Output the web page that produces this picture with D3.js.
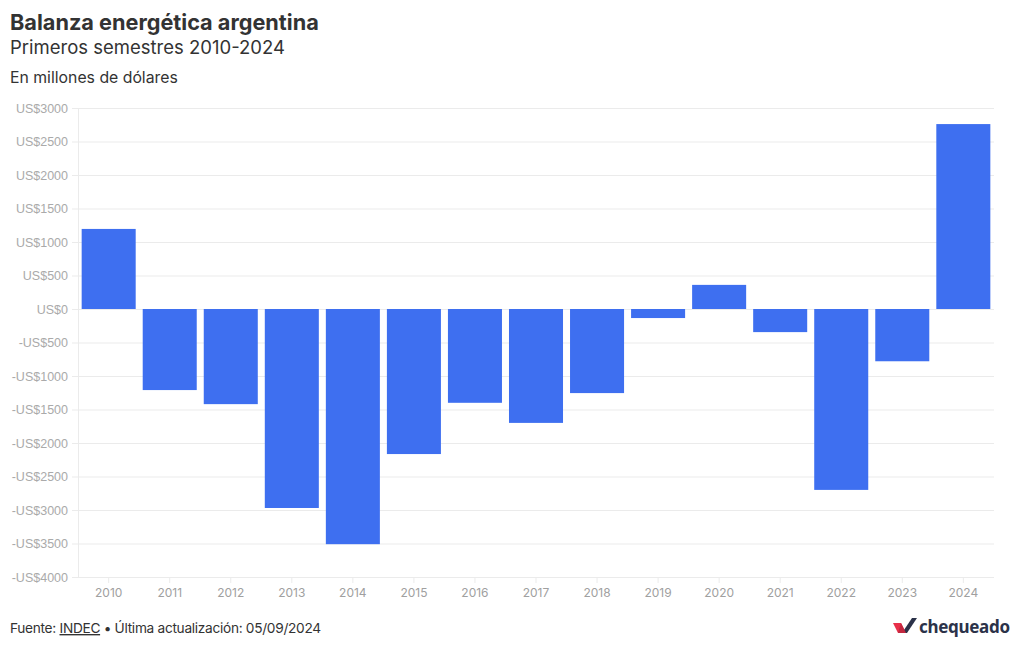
<!DOCTYPE html>
<html><head><meta charset="utf-8">
<script src="https://cdn.jsdelivr.net/npm/d3@7"></script>
<style>
body{margin:0;background:#fff;}
svg{display:block;}
</style></head>
<body>
<svg id="chart" width="1020" height="650"></svg>
<script>
const years = ["2010","2011","2012","2013","2014","2015","2016","2017","2018","2019","2020","2021","2022","2023","2024"];
const balance = [1195,-1210,-1420,-2970,-3510,-2165,-1400,-1700,-1255,-135,360,-345,-2700,-780,2760];
const yTicks = [3000,2500,2000,1500,1000,500,0,-500,-1000,-1500,-2000,-2500,-3000,-3500,-4000];

const svg = d3.select("#chart");
const m = {left:78, right:994, top:108, bottom:577};
const x = d3.scaleBand().domain(years).range([m.left, m.right]).paddingInner(0.115).paddingOuter(0.06);
const y = d3.scaleLinear().domain([-4000,3000]).range([m.bottom, m.top]);

const fmt = v => (v<0?"-":"") + "US$" + Math.abs(v);

// grid
const yAxis = d3.axisLeft(y).tickValues(yTicks).tickFormat(fmt).tickSize(-(m.right-m.left)).tickPadding(10);
const gy = svg.append("g").attr("transform",`translate(${m.left},0)`).call(yAxis);
gy.select(".domain").attr("stroke","#ebebeb");
gy.selectAll(".tick line").attr("stroke","#ebebeb");
gy.selectAll(".tick text").attr("fill","#aaa").attr("font-family","'Liberation Sans',Arial,sans-serif").attr("font-size","12.5px");
gy.selectAll(".tick line").attr("x1",-6);

// bars
svg.append("g").selectAll("rect").data(years).join("rect")
  .attr("x", d=>x(d)).attr("width", x.bandwidth())
  .attr("y", (d,i)=>y(Math.max(0,balance[i])))
  .attr("height",(d,i)=>Math.abs(y(balance[i])-y(0)))
  .attr("fill","#3e6ff0");

// x axis
const tf = "Inter,'Noto Sans',sans-serif";
const xAxis = d3.axisBottom(x).tickSize(6).tickPadding(5);
const gx = svg.append("g").attr("transform",`translate(0,${m.bottom})`).call(xAxis);
gx.select(".domain").attr("stroke","#ebebeb").attr("d",`M${m.left},0.5H${m.right}`);
gx.selectAll(".tick line").attr("stroke","#ebebeb");
gx.selectAll(".tick text").attr("fill","#a0a0a0").attr("font-family",tf).attr("font-size","12px");

// titles
svg.append("text").attr("x",10).attr("y",30).attr("font-family",tf).attr("font-weight",700).attr("font-size","21.7px").attr("fill","#333").text("Balanza energética argentina");
svg.append("text").attr("x",10).attr("y",54).attr("font-family",tf).attr("font-size","18.5px").attr("fill","#333").text("Primeros semestres 2010-2024");
svg.append("text").attr("x",10).attr("y",83).attr("font-family",tf).attr("font-size","15.8px").attr("fill","#333").text("En millones de dólares");

// footer
const ft = svg.append("text").attr("x",10).attr("y",633).attr("font-family",tf).attr("font-size","13.7px").attr("fill","#333").attr("letter-spacing","-0.3");
ft.append("tspan").text("Fuente: ");
ft.append("tspan").attr("text-decoration","underline").text("INDEC");
ft.append("tspan").text(" • Última actualización: 05/09/2024");

// logo
const lg = svg.append("g").attr("transform","translate(893,617)");
lg.append("path").attr("d","M0,6 L8,6 L13,16 L5,16 Z").attr("fill","#e8304a");
lg.append("path").attr("d","M9,16 L19,1 L24,1 L14,16 Z").attr("fill","#2b3249");
lg.append("path").attr("d","M5,16 L8,6 L13,16 Z").attr("fill","#c22840");
svg.append("text").attr("x",919).attr("y",633).attr("font-family","'Noto Sans',Lato,sans-serif").attr("font-weight",700).attr("font-size","17px").attr("fill","#2b3249").attr("letter-spacing","-0.3").text("chequeado");
</script>
</body></html>
